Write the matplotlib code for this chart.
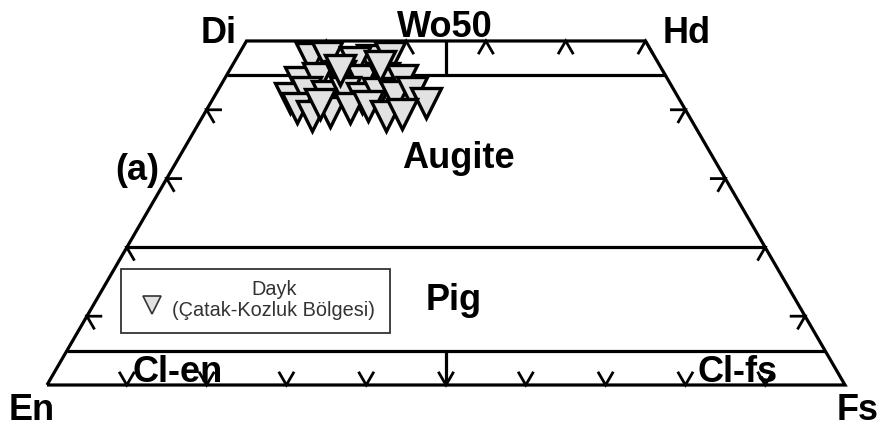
import matplotlib
matplotlib.use("Agg")
import matplotlib.pyplot as plt
from matplotlib.patches import Rectangle
import numpy as np

# ---- data: pyroxene compositions (mol %) ----
wo = [47.5, 47.7, 47.3, 47.6, 46.9, 44.0, 44.6, 44.9, 44.3, 44.6, 44.3,
      41.7, 42.6, 42.0, 42.6, 41.7, 42.4, 42.0, 42.6, 41.0, 40.3, 39.1,
      39.7, 40.3, 40.6, 39.1, 39.4, 45.8, 40.8, 46.4]
fs = [9.3, 11.3, 17.1, 19.2, 15.1, 9.7, 11.7, 14.3, 17.3, 19.9, 22.3,
      9.6, 11.2, 14.1, 16.0, 18.6, 20.3, 22.6, 24.4, 27.0, 11.2, 13.7,
      15.6, 17.8, 19.9, 22.9, 24.8, 13.8, 13.8, 18.5]
legend_lines = ["Dayk", "(Çatak-Kozluk Bölgesi)"]
corner_labels = ["En", "Fs", "Di", "Hd", "Wo50"]
field_labels = ["Augite", "Pig", "Cl-en", "Cl-fs"]
bottom_ticks = [10, 20, 30, 40, 50, 60, 70, 80, 90]   # X position along En-Fs
top_ticks = [35, 45, 55, 65, 75]                      # X position along Di-Hd
side_ticks = [10, 20, 30, 40]                         # Wo %

H = np.sqrt(3) / 2


def tern(w, f):
    w = np.asarray(w, float)
    f = np.asarray(f, float)
    return f + w / 2, w * H


W, Hpx = 880, 428
fig = plt.figure(figsize=(W / 100, Hpx / 100), dpi=100)
ax = fig.add_axes([0, 0, 1, 1])
ax.set_xlim((0 - 47) / 7.98, (W - 47) / 7.98)
ax.set_ylim((385 - Hpx) / 7.945, 385 / 7.945)
ax.axis("off")

LW = 2.3
kw = dict(color="black", lw=LW, solid_capstyle="butt", solid_joinstyle="miter", zorder=2)

# outline
ox, oy = tern([0, 0, 50, 50, 0], [0, 100, 50, 0, 0])
ax.plot(ox, oy, **kw)
# horizontal field boundaries
for w in (45, 20, 5):
    lx, ly = tern([w, w], [0, 100 - w])
    ax.plot(lx, ly, **kw)
# vertical lines at En = Fs
ax.plot([50, 50], [45 * H, 50 * H], **kw)
ax.plot([50, 50], [0, 5 * H], **kw)

# chevron ticks
L = 1.75


def chevron(x, y, bis):
    a1 = np.deg2rad(bis + 30)
    a2 = np.deg2rad(bis - 30)
    ax.plot([x + L * np.cos(a1), x, x + L * np.cos(a2)],
            [y + L * np.sin(a1), y, y + L * np.sin(a2)],
            color="black", lw=2.0, solid_joinstyle="miter", zorder=2)


for x in bottom_ticks:
    chevron(x, 0, 90)
for x in top_ticks:
    chevron(x, 50 * H, -90)
for w in side_ticks:
    chevron(w / 2, w * H, -30)
    chevron(100 - w / 2, w * H, 210)

# data points
px, py = tern(wo, fs)
ax.plot(px, py, linestyle="none", marker="v", ms=21.5, mfc="#e2e2e2",
        mec="black", mew=2.4, zorder=5)

# labels (positions in pixels)
font = "Liberation Sans"


def ptext(x, y, s, size=26, weight="bold", **k):
    fig.text(x / W, 1 - y / Hpx, s, fontsize=size, fontweight=weight,
             family=font, ha="center", va="baseline", **k)


ptext(32, 420, corner_labels[0])
ptext(858, 420, corner_labels[1])
ptext(219, 43, corner_labels[2])
ptext(687, 43, corner_labels[3])
ptext(445, 37, corner_labels[4])
ptext(137, 180, "(a)")
ptext(458, 168, field_labels[0])
ptext(454, 310, field_labels[1])
ptext(178, 382, field_labels[2])
ptext(738, 382, field_labels[3])

# legend box
ax.add_patch(Rectangle((121 / W, 1 - 333 / Hpx), 269 / W, 64 / Hpx,
                       transform=fig.transFigure, facecolor="white",
                       edgecolor="#333333", lw=1.3, zorder=6))
ax.plot([152 / W], [1 - 305 / Hpx], transform=fig.transFigure, marker="v",
        ms=13, mfc="#e2e2e2", mec="#333333", mew=1.2, linestyle="none",
        zorder=7, clip_on=False)
ax.text(274 / W, 1 - 300 / Hpx, "\n".join(legend_lines), fontsize=14.3,
        family=font, ha="center", va="center", color="#333333",
        linespacing=1.15, zorder=8, transform=fig.transFigure)

fig.savefig("out.png", dpi=100)
